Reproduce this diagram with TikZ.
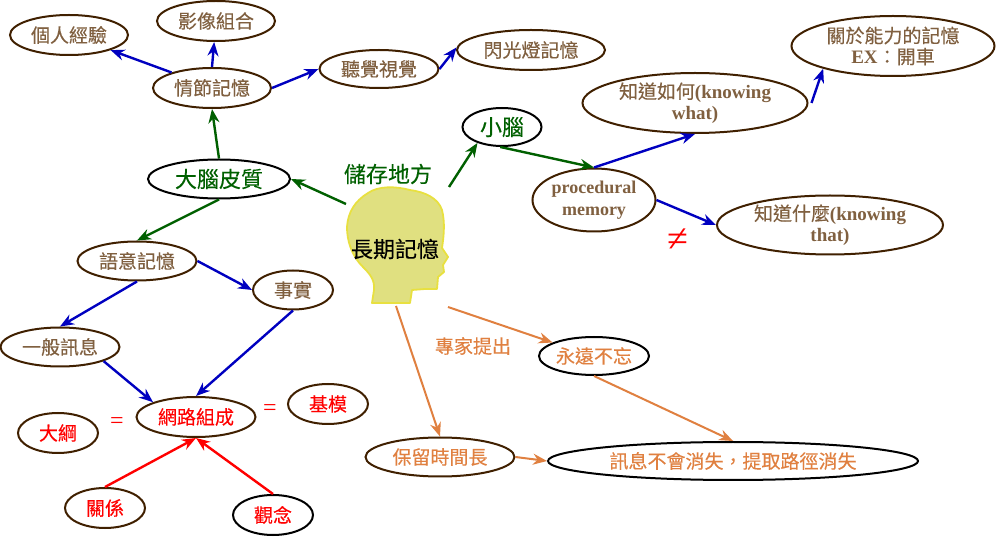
\documentclass[tikz,border=0pt]{standalone}
\usepackage{fontspec}
\setmainfont{Noto Sans CJK TC}[FakeBold=0.25]
\newfontfamily\latinb{Liberation Serif Bold}
\newfontfamily\latinr{Liberation Serif}
\usetikzlibrary{shapes.geometric,arrows.meta}
\definecolor{bdr}{HTML}{402000}
\definecolor{txt}{HTML}{806040}
\definecolor{cblue}{HTML}{0000C0}
\definecolor{cgreen}{HTML}{006000}
\definecolor{cred}{HTML}{FF0000}
\definecolor{corange}{HTML}{E08040}
\definecolor{hfill}{HTML}{E0E080}
\definecolor{hline}{HTML}{E8E040}
\newcommand{\lat}[1]{{\latinb #1}}
\tikzset{
 x=1pt,y=-1pt,
 ell/.style={ellipse,draw=bdr,line width=2pt,inner sep=0pt,align=center,text=txt,font=\fontsize{19}{21}\selectfont},
 blk/.style={draw=black},
 rt/.style={text=cred},
 gt/.style={text=cgreen},
 ot/.style={text=corange},
 conn/.style={line width=2.4pt,-{Stealth[length=14pt,width=11pt]}},
 bl/.style={conn,draw=cblue,fill=cblue},
 gr/.style={conn,draw=cgreen,fill=cgreen},
 re/.style={conn,draw=cred,fill=cred},
 orr/.style={conn,line width=2pt,draw=corange,fill=corange},
 lab/.style={inner sep=0pt,font=\fontsize{19}{21}\selectfont}
}
\begin{document}
\begin{tikzpicture}
\useasboundingbox (0,0) rectangle (997,537);
\fill[white] (0,0) rectangle (997,537);
% head
\draw[fill=hfill,draw=hline,line width=1.8pt,line join=round]
 (372,303) -- (410,303) -- (412,290) -- (425,289) -- (437,289) -- (438,277) -- (444,272) -- (443,265) -- (448,257) -- (442,248)
 .. controls (444,235) and (445,222) .. (442,210)
 .. controls (438,198) and (425,192) .. (410,190)
 .. controls (395,186) and (378,186) .. (368,193)
 .. controls (355,201) and (348,212) .. (347,227)
 .. controls (347,240) and (351,255) .. (363,267)
 .. controls (370,274) and (375,280) .. (374,290) -- cycle;
\coordinate (h1) at (346,204);
\coordinate (h2) at (449,187);
\coordinate (h3) at (448,307);
\coordinate (h4) at (396,306);
\node[lab,text=black,font=\fontsize{22}{24}\selectfont] (head) at (395,249) {長期記憶};
% nodes
\node[ell,minimum width=118pt,minimum height=40pt] (gr1) at (69,35) {個人經驗};
\node[ell,minimum width=118pt,minimum height=40pt] (yx) at (216,21) {影像組合};
\node[ell,minimum width=118pt,minimum height=40pt] (qj) at (212,88) {情節記憶};
\node[ell,minimum width=119pt,minimum height=38pt] (tj) at (379,69) {聽覺視覺};
\node[ell,minimum width=148pt,minimum height=40pt] (sg) at (531,50) {閃光燈記憶};
\node[ell,blk,gt,minimum width=142pt,minimum height=39pt,font=\fontsize{22}{24}\selectfont] (dn) at (219,179) {大腦皮質};
\node[ell,blk,gt,minimum width=79pt,minimum height=38pt,font=\fontsize{22}{24}\selectfont] (xn) at (502,127) {小腦};
\node[ell,minimum width=225pt,minimum height=60pt,font=\fontsize{19}{21}\selectfont] (zd1) at (695,103) {知道如何\lat{(knowing}\\\lat{what)}};
\node[ell,minimum width=203pt,minimum height=60pt,font=\fontsize{19}{21}\selectfont] (gy) at (893,46) {關於能力的記憶\\\lat{EX}：開車};
\node[ell,minimum width=123pt,minimum height=63pt,font=\fontsize{18}{22}\selectfont] (pm) at (594,200) {\lat{procedural}\\\lat{memory}};
\node[ell,minimum width=226pt,minimum height=59pt,font=\fontsize{19}{21}\selectfont] (zd2) at (830,225) {知道什麼\lat{(knowing}\\\lat{that)}};
\node[ell,minimum width=119pt,minimum height=39pt] (yy) at (137,261) {語意記憶};
\node[ell,minimum width=80pt,minimum height=39pt] (ss) at (293,290) {事實};
\node[ell,minimum width=119pt,minimum height=39pt] (yb) at (60,347) {一般訊息};
\node[ell,rt,minimum width=119pt,minimum height=40pt] (wl) at (196,417) {網路組成};
\node[ell,rt,minimum width=80pt,minimum height=40pt] (jm) at (328,404) {基模};
\node[ell,rt,minimum width=80pt,minimum height=40pt] (dg) at (58,433) {大綱};
\node[ell,rt,minimum width=80pt,minimum height=40pt] (gx) at (105,508) {關係};
\node[ell,blk,rt,minimum width=80pt,minimum height=40pt] (gn) at (273,515) {觀念};
\node[ell,blk,ot,minimum width=110pt,minimum height=38pt] (yy2) at (594,356) {永遠不忘};
\node[ell,ot,minimum width=149pt,minimum height=39pt] (bl) at (440,457) {保留時間長};
\node[ell,blk,ot,minimum width=370pt,minimum height=38pt] (xx) at (733,461) {訊息不會消失，提取路徑消失};
% labels
\node[lab,text=cgreen,font=\fontsize{22}{24}\selectfont] (cc) at (388,174) {儲存地方};
\node[lab,text=corange] (zj) at (473,346) {專家提出};
\node[lab,text=cred,font=\fontsize{24}{24}\selectfont\latinr] (eq1) at (117,423) {=};
\node[lab,text=cred,font=\fontsize{24}{24}\selectfont\latinr] (eq2) at (270,410) {=};
\node[lab,text=cred,font=\fontsize{38}{38}\selectfont\latinr] (ne) at (678,240) {≠};
% connectors
\draw[bl] (qj.159) -- (gr1.-20);
\draw[bl] (qj.90) -- (yx.-95);
\draw[bl] (qj.0) -- (tj.180);
\draw[bl] (tj.0) -- (sg.178);
\draw[gr] (dn.90) -- (qj.-90);
\draw[gr] (h1) -- (dn.0);
\draw[gr] (h2) -- (xn.213);
\draw[gr] (dn.-90) -- (yy.90);
\draw[bl] (yy.0) -- (ss.180);
\draw[bl] (yy.-90) -- (yb.90);
\draw[bl] (yb.-18) -- (wl.161);
\draw[bl] (ss.-90) -- (wl.90);
\draw[re] (gx.90) -- (wl.-90);
\draw[re] (gn.90) -- (wl.-90);
\draw[gr] (xn.-95) -- (pm.90);
\draw[bl] (pm.90) -- (zd1.-90);
\draw[bl] ([xshift=3pt]zd1.0) -- (gy.198);
\draw[bl] (pm.0) -- (zd2.180);
\draw[orr] (h3) -- (yy2.162);
\draw[orr] (h4) -- (bl.90);
\draw[orr] (bl.0) -- (xx.180);
\draw[orr] (yy2.-90) -- (xx.90);
\end{tikzpicture}
\end{document}
